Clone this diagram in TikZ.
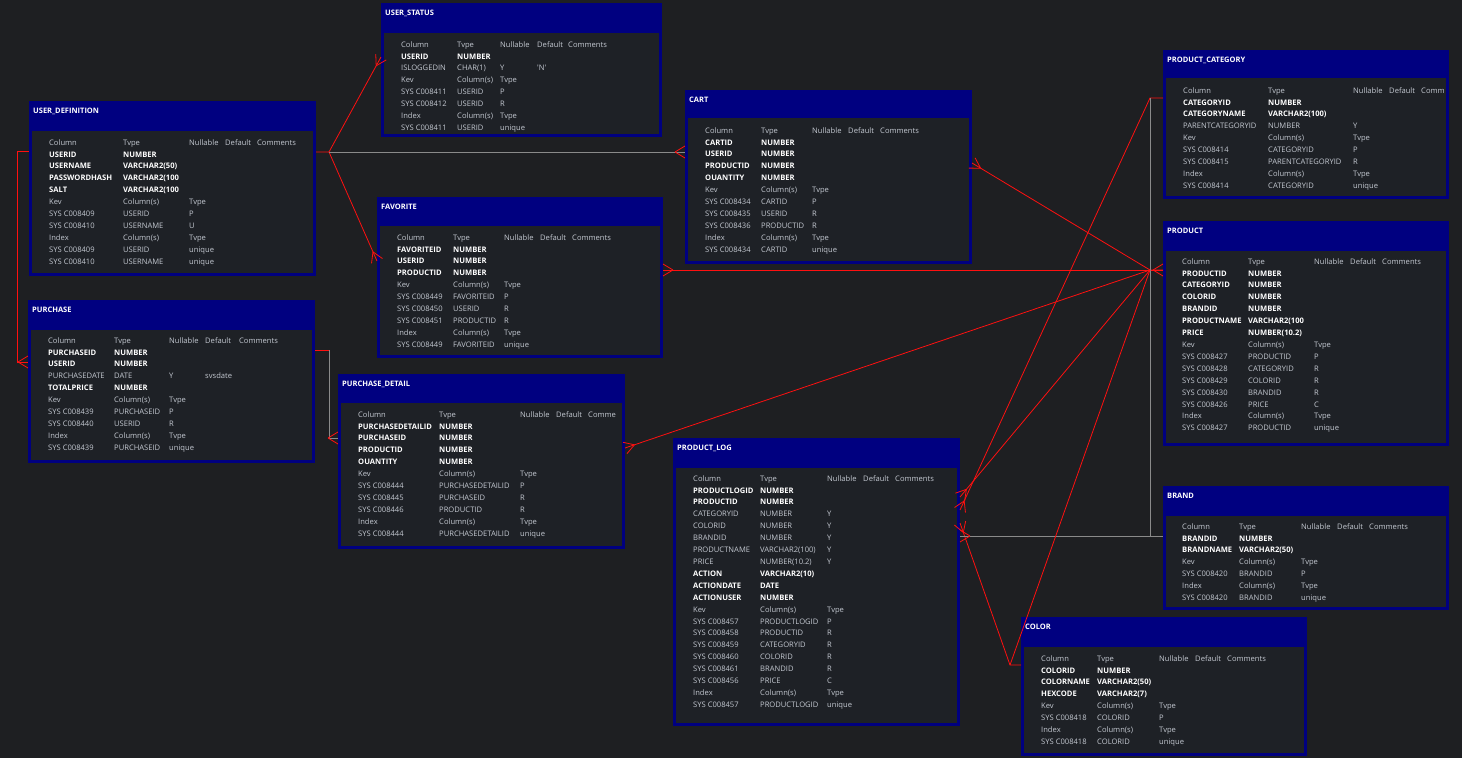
\documentclass[tikz,border=0pt]{standalone}
\usepackage{fontspec}
\setmainfont{Open Sans}
\usetikzlibrary{calc}
\definecolor{bg}{HTML}{1E1F22}
\definecolor{panel}{HTML}{1E2126}
\definecolor{navy}{HTML}{000080}
\definecolor{txt}{HTML}{C3C8D0}
\definecolor{relc}{HTML}{FF1010}
\definecolor{grl}{HTML}{8A8A8A}
\tikzset{
  tablebox/.style={fill=navy, draw=none, inner sep=0pt, outer sep=0pt, rectangle},
  ttl/.style={anchor=west, inner sep=0pt, text=white, font=\fontsize{7.5}{9}\selectfont\bfseries},
  cl/.style={anchor=west, inner sep=0pt, text height=5.5pt, text depth=1.5pt, text=txt, font=\fontsize{7.6}{9}\selectfont},
  cb/.style={cl, text=white, font=\fontsize{7.6}{9}\selectfont\bfseries},
  rel/.style={draw=relc, line width=0.8pt},
  relg/.style={draw=grl, line width=0.8pt},
}
\newcount\nn
\newcommand\cell[4]{\if\relax\detokenize{#4}\relax\else\global\advance\nn by 1\relax\node[#1] (n\the\nn) at (#2,#3) {#4};\fi}
\newcommand\R[7]{\cell{#2}{\Xa}{#1}{#3}\cell{#2}{\Xb}{#1}{#4}\cell{cl}{\Xc}{#1}{#5}\cell{cl}{\Xd}{#1}{#6}\cell{cl}{\Xe}{#1}{#7}}
\newcommand\tbl[7]{%
  \node[tablebox, anchor=north west, minimum width={(#4-#2)*1pt}, minimum height={(#5-#3)*1pt}] (#1) at (#2,#3) {};
  \fill[panel] (#2+3,#6) rectangle (#4-3,#5-3);
  \node[ttl] (#1-t) at (#2+4,#3+10) {#7};}
\newcommand\crow[3][rel]{\draw[#1] ($(#2)!10pt!(#3)$) -- ($(#2)!6pt!90:(#3)$) ($(#2)!10pt!(#3)$) -- ($(#2)!6pt!-90:(#3)$);}
\newcommand\Q{\textquotesingle}
\begin{document}
\begin{tikzpicture}[x=1pt,y=-1pt]
\fill[bg] (0,0) rectangle (1462,758);
\useasboundingbox (0,0) rectangle (1462,758);

\coordinate (j1) at (329,152);
\coordinate (jp) at (1150,270);
\coordinate (jc) at (1150,98);
\coordinate (jk) at (1010,665);
\coordinate (l1) at (17,151);
\coordinate (l2) at (17,362);
\coordinate (m1) at (329,350);
\coordinate (m2) at (329,438);

% ---------------- tables ----------------
\tbl{us}{381}{3}{662}{137}{33}{USER\_STATUS}
\tbl{ud}{29}{101}{316}{276}{131}{USER\_DEFINITION}
\tbl{cart}{685}{90}{972}{264}{118}{CART}
\tbl{fav}{377}{197}{663}{358}{226}{FAVORITE}
\tbl{pc}{1163}{50}{1449}{199}{78}{PRODUCT\_CATEGORY}
\tbl{prod}{1163}{221}{1449}{446}{251}{PRODUCT}
\tbl{pur}{28}{300}{315}{463}{330}{PURCHASE}
\tbl{pd}{338}{374}{625}{549}{403}{PURCHASE\_DETAIL}
\tbl{pl}{673}{438}{960}{726}{468}{PRODUCT\_LOG}
\tbl{brand}{1163}{486}{1449}{610}{516}{BRAND}
\tbl{color}{1021}{617}{1307}{756}{647}{COLOR}

% ---------------- connectors ----------------
\draw[rel] (ud.east |- j1) -- (j1) -- (us.west |- 0,57);
\crow{us.west |- 0,57}{j1}
\draw[rel] (j1) -- (fav.west |- 0,261);
\crow{fav.west |- 0,261}{j1}
\draw[relg] (j1) -- (cart.west |- 0,152);
\crow{cart.west |- 0,152}{j1}
\draw[rel] (ud.west |- l1) -- (l1) -- (l2) -- (pur.west |- l2);
\crow{pur.west |- l2}{l2}
\draw[rel] (pur.east |- m1) -- (m1);
\draw[relg] (m1) -- (m2) -- (pd.west |- m2);
\crow{pd.west |- m2}{m2}
\draw[rel] (pd.east |- 0,448) -- (jp) -- (prod.west |- jp);
\crow{pd.east |- 0,448}{jp}
\draw[rel] (fav.east |- 0,270) -- (prod.west |- jp);
\crow{fav.east |- 0,270}{jp}
\crow{prod.west |- jp}{jp}
\draw[rel] (cart.east |- 0,163) -- (jp);
\crow{cart.east |- 0,163}{jp}
\draw[rel] (pl.east |- 0,497) -- (jp);
\crow{pl.east |- 0,497}{jp}
\draw[rel] (pl.east |- 0,510) -- (jc) -- (pc.west |- jc);
\crow{pl.east |- 0,510}{jc}
\draw[rel] (pl.east |- 0,523) -- (jk) -- (color.west |- jk);
\crow{pl.east |- 0,523}{jk}
\draw[relg] (pl.east |- 0,536) -- (brand.west |- 0,536);
\crow{pl.east |- 0,536}{brand.west |- 0,536}
\draw[relg] (jc) -- (1150,536) -- (brand.west |- 0,536);
\draw[rel] (jp) -- (jk);

% ---------------- contents ----------------
\def\Xa{401}\def\Xb{457}\def\Xc{500}\def\Xd{537}\def\Xe{568}
\R{45}{cl}{Column}{Tvpe}{Nullable}{Default}{Comments}
\R{57}{cb}{USERID}{NUMBER}{}{}{}
\R{68}{cl}{ISLOGGEDIN}{CHAR(1)}{Y}{\Q N\Q}{}
\R{80}{cl}{Kev}{Column(s)}{Tvpe}{}{}
\R{92}{cl}{SYS C008411}{USERID}{P}{}{}
\R{104}{cl}{SYS C008412}{USERID}{R}{}{}
\R{116}{cl}{Index}{Column(s)}{Tvpe}{}{}
\R{128}{cl}{SYS C008411}{USERID}{unique}{}{}

\def\Xa{49}\def\Xb{123}\def\Xc{189}\def\Xd{225}\def\Xe{257}
\R{143}{cl}{Column}{Tvpe}{Nullable}{Default}{Comments}
\R{155}{cb}{USERID}{NUMBER}{}{}{}
\R{166}{cb}{USERNAME}{VARCHAR2(50)}{}{}{}
\R{178}{cb}{PASSWORDHASH}{VARCHAR2(100}{}{}{}
\R{190}{cb}{SALT}{VARCHAR2(100}{}{}{}
\R{202}{cl}{Kev}{Column(s)}{Tvpe}{}{}
\R{214}{cl}{SYS C008409}{USERID}{P}{}{}
\R{226}{cl}{SYS C008410}{USERNAME}{U}{}{}
\R{238}{cl}{Index}{Column(s)}{Tvpe}{}{}
\R{250}{cl}{SYS C008409}{USERID}{unique}{}{}
\R{262}{cl}{SYS C008410}{USERNAME}{unique}{}{}

\def\Xa{705}\def\Xb{761}\def\Xc{812}\def\Xd{848}\def\Xe{880}
\R{131}{cl}{Column}{Tvpe}{Nullable}{Default}{Comments}
\R{143}{cb}{CARTID}{NUMBER}{}{}{}
\R{154}{cb}{USERID}{NUMBER}{}{}{}
\R{166}{cb}{PRODUCTID}{NUMBER}{}{}{}
\R{178}{cb}{OUANTITY}{NUMBER}{}{}{}
\R{190}{cl}{Kev}{Column(s)}{Tvpe}{}{}
\R{202}{cl}{SYS C008434}{CARTID}{P}{}{}
\R{214}{cl}{SYS C008435}{USERID}{R}{}{}
\R{226}{cl}{SYS C008436}{PRODUCTID}{R}{}{}
\R{238}{cl}{Index}{Column(s)}{Tvpe}{}{}
\R{250}{cl}{SYS C008434}{CARTID}{unique}{}{}

\def\Xa{397}\def\Xb{453}\def\Xc{504}\def\Xd{540}\def\Xe{572}
\R{238}{cl}{Column}{Tvpe}{Nullable}{Default}{Comments}
\R{250}{cb}{FAVORITEID}{NUMBER}{}{}{}
\R{261}{cb}{USERID}{NUMBER}{}{}{}
\R{273}{cb}{PRODUCTID}{NUMBER}{}{}{}
\R{285}{cl}{Kev}{Column(s)}{Tvpe}{}{}
\R{297}{cl}{SYS C008449}{FAVORITEID}{P}{}{}
\R{309}{cl}{SYS C008450}{USERID}{R}{}{}
\R{321}{cl}{SYS C008451}{PRODUCTID}{R}{}{}
\R{333}{cl}{Index}{Column(s)}{Tvpe}{}{}
\R{345}{cl}{SYS C008449}{FAVORITEID}{unique}{}{}

\def\Xa{1183}\def\Xb{1268}\def\Xc{1353}\def\Xd{1389}\def\Xe{1421}
\R{91}{cl}{Column}{Tvpe}{Nullable}{Default}{Comm}
\R{103}{cb}{CATEGORYID}{NUMBER}{}{}{}
\R{114}{cb}{CATEGORYNAME}{VARCHAR2(100)}{}{}{}
\R{126}{cl}{PARENTCATEGORYID}{NUMBER}{Y}{}{}
\R{138}{cl}{Kev}{Column(s)}{Tvpe}{}{}
\R{150}{cl}{SYS C008414}{CATEGORYID}{P}{}{}
\R{162}{cl}{SYS C008415}{PARENTCATEGORYID}{R}{}{}
\R{174}{cl}{Index}{Column(s)}{Tvpe}{}{}
\R{186}{cl}{SYS C008414}{CATEGORYID}{unique}{}{}

\def\Xa{1182}\def\Xb{1248}\def\Xc{1314}\def\Xd{1350}\def\Xe{1382}
\R{262}{cl}{Column}{Tvpe}{Nullable}{Default}{Comments}
\R{274}{cb}{PRODUCTID}{NUMBER}{}{}{}
\R{285}{cb}{CATEGORYID}{NUMBER}{}{}{}
\R{297}{cb}{COLORID}{NUMBER}{}{}{}
\R{309}{cb}{BRANDID}{NUMBER}{}{}{}
\R{321}{cb}{PRODUCTNAME}{VARCHAR2(100}{}{}{}
\R{333}{cb}{PRICE}{NUMBER(10.2)}{}{}{}
\R{345}{cl}{Kev}{Column(s)}{Tvpe}{}{}
\R{357}{cl}{SYS C008427}{PRODUCTID}{P}{}{}
\R{369}{cl}{SYS C008428}{CATEGORYID}{R}{}{}
\R{381}{cl}{SYS C008429}{COLORID}{R}{}{}
\R{393}{cl}{SYS C008430}{BRANDID}{R}{}{}
\R{405}{cl}{SYS C008426}{PRICE}{C}{}{}
\R{416}{cl}{Index}{Column(s)}{Tvpe}{}{}
\R{428}{cl}{SYS C008427}{PRODUCTID}{unique}{}{}

\def\Xa{48}\def\Xb{114}\def\Xc{169}\def\Xd{205}\def\Xe{239}
\R{341}{cl}{Column}{Tvpe}{Nullable}{Default}{Comments}
\R{353}{cb}{PURCHASEID}{NUMBER}{}{}{}
\R{364}{cb}{USERID}{NUMBER}{}{}{}
\R{376}{cl}{PURCHASEDATE}{DATE}{Y}{svsdate}{}
\R{388}{cb}{TOTALPRICE}{NUMBER}{}{}{}
\R{400}{cl}{Kev}{Column(s)}{Tvpe}{}{}
\R{412}{cl}{SYS C008439}{PURCHASEID}{P}{}{}
\R{424}{cl}{SYS C008440}{USERID}{R}{}{}
\R{436}{cl}{Index}{Column(s)}{Tvpe}{}{}
\R{448}{cl}{SYS C008439}{PURCHASEID}{unique}{}{}

\def\Xa{358}\def\Xb{439}\def\Xc{520}\def\Xd{556}\def\Xe{588}
\R{415}{cl}{Column}{Tvpe}{Nullable}{Default}{Comme}
\R{427}{cb}{PURCHASEDETAILID}{NUMBER}{}{}{}
\R{438}{cb}{PURCHASEID}{NUMBER}{}{}{}
\R{450}{cb}{PRODUCTID}{NUMBER}{}{}{}
\R{462}{cb}{OUANTITY}{NUMBER}{}{}{}
\R{474}{cl}{Kev}{Column(s)}{Tvpe}{}{}
\R{486}{cl}{SYS C008444}{PURCHASEDETAILID}{P}{}{}
\R{498}{cl}{SYS C008445}{PURCHASEID}{R}{}{}
\R{510}{cl}{SYS C008446}{PRODUCTID}{R}{}{}
\R{522}{cl}{Index}{Column(s)}{Tvpe}{}{}
\R{534}{cl}{SYS C008444}{PURCHASEDETAILID}{unique}{}{}

\def\Xa{693}\def\Xb{760}\def\Xc{827}\def\Xd{863}\def\Xe{895}
\R{479}{cl}{Column}{Tvpe}{Nullable}{Default}{Comments}
\R{491}{cb}{PRODUCTLOGID}{NUMBER}{}{}{}
\R{502}{cb}{PRODUCTID}{NUMBER}{}{}{}
\R{514}{cl}{CATEGORYID}{NUMBER}{Y}{}{}
\R{526}{cl}{COLORID}{NUMBER}{Y}{}{}
\R{538}{cl}{BRANDID}{NUMBER}{Y}{}{}
\R{550}{cl}{PRODUCTNAME}{VARCHAR2(100)}{Y}{}{}
\R{562}{cl}{PRICE}{NUMBER(10.2)}{Y}{}{}
\R{574}{cb}{ACTION}{VARCHAR2(10)}{}{}{}
\R{586}{cb}{ACTIONDATE}{DATE}{}{}{}
\R{598}{cb}{ACTIONUSER}{NUMBER}{}{}{}
\R{610}{cl}{Kev}{Column(s)}{Tvpe}{}{}
\R{622}{cl}{SYS C008457}{PRODUCTLOGID}{P}{}{}
\R{633}{cl}{SYS C008458}{PRODUCTID}{R}{}{}
\R{645}{cl}{SYS C008459}{CATEGORYID}{R}{}{}
\R{657}{cl}{SYS C008460}{COLORID}{R}{}{}
\R{669}{cl}{SYS C008461}{BRANDID}{R}{}{}
\R{681}{cl}{SYS C008456}{PRICE}{C}{}{}
\R{693}{cl}{Index}{Column(s)}{Tvpe}{}{}
\R{705}{cl}{SYS C008457}{PRODUCTLOGID}{unique}{}{}

\def\Xa{1182}\def\Xb{1239}\def\Xc{1301}\def\Xd{1337}\def\Xe{1369}
\R{527}{cl}{Column}{Tvpe}{Nullable}{Default}{Comments}
\R{539}{cb}{BRANDID}{NUMBER}{}{}{}
\R{550}{cb}{BRANDNAME}{VARCHAR2(50)}{}{}{}
\R{562}{cl}{Kev}{Column(s)}{Tvpe}{}{}
\R{574}{cl}{SYS C008420}{BRANDID}{P}{}{}
\R{586}{cl}{Index}{Column(s)}{Tvpe}{}{}
\R{598}{cl}{SYS C008420}{BRANDID}{unique}{}{}

\def\Xa{1041}\def\Xb{1097}\def\Xc{1159}\def\Xd{1195}\def\Xe{1227}
\R{659}{cl}{Column}{Tvpe}{Nullable}{Default}{Comments}
\R{671}{cb}{COLORID}{NUMBER}{}{}{}
\R{682}{cb}{COLORNAME}{VARCHAR2(50)}{}{}{}
\R{694}{cb}{HEXCODE}{VARCHAR2(7)}{}{}{}
\R{706}{cl}{Kev}{Column(s)}{Tvpe}{}{}
\R{718}{cl}{SYS C008418}{COLORID}{P}{}{}
\R{730}{cl}{Index}{Column(s)}{Tvpe}{}{}
\R{742}{cl}{SYS C008418}{COLORID}{unique}{}{}
\end{tikzpicture}
\end{document}
